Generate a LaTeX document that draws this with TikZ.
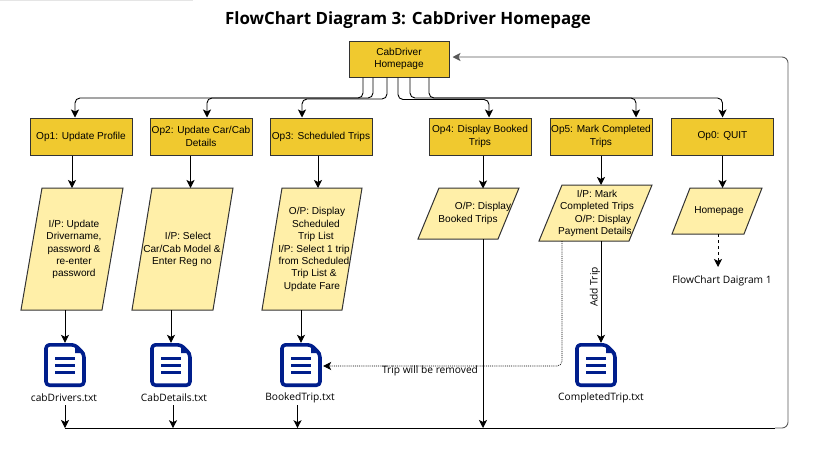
\documentclass[tikz,border=0pt]{standalone}
\usepackage{fontspec}
\setmainfont{Liberation Sans}
\newfontfamily\labelfont{Open Sans}
\usetikzlibrary{arrows.meta}
\definecolor{opfill}{HTML}{F0C92F}
\definecolor{iofill}{HTML}{FFEFA8}
\definecolor{docblue}{HTML}{001E8C}
\tikzset{
  opbox/.style={draw=black!80,fill=opfill,line width=1pt,minimum width=102pt,minimum height=37pt,inner sep=0pt,align=center,font=\fontsize{10.1}{12.6}\selectfont},
  iobox/.style={inner sep=0pt,outer sep=0pt,minimum height=122pt},
  ioshape/.style={draw=black!80,fill=iofill,line width=1pt,line join=miter},
  iotext/.style={inner sep=0pt,align=center,font=\fontsize{10.1}{12.4}\selectfont},
  docbox/.style={minimum width=42pt,minimum height=44pt,inner sep=0pt},
  filelabel/.style={inner sep=0pt,minimum height=14pt,font=\labelfont\fontsize{10.2}{11}\selectfont},
  flow/.style={-{Stealth[length=8pt,width=8pt,inset=2pt]},line width=0.9pt},
  docicon/.pic={
    \draw [docblue,fill=white,line width=3.6pt,line join=round,rounded corners=3.5pt] (-19,-20.2) -- (10,-20.2) -- (19,-11) -- (19,20.2) -- (-19,20.2) -- cycle;
    \fill [docblue] (10,-21) -- (10,-12) -- (20,-12) -- cycle;
    \foreach \q in {-6.5,0.5,7.5} {
      \fill [docblue] (-10,\q-1.6) rectangle (10,\q+1.6);
    }
  }
}
\begin{document}
\begin{tikzpicture}[x=1pt,y=-1pt]
  \useasboundingbox (0,0) rectangle (813,453);
  \fill [black!10] (0,0) rectangle (193,1);
  \node [font=\labelfont\bfseries\fontsize{16.9}{20}\selectfont] (title) at (408,20) {FlowChart Diagram 3: CabDriver Homepage};
  \node [opbox,minimum width=100pt,minimum height=36pt] (root) at (399,59) {CabDriver\\Homepage};
  \foreach \n/\x/\t in {1/81/{Op1: Update Profile},2/201/{Op2: Update Car/Cab\\Details},3/321/{Op3: Scheduled Trips},4/480/{Op4: Display Booked\\Trips},5/601/{Op5: Mark Completed\\Trips},0/722.5/{Op0: QUIT}} {
    \node [opbox] (op\n) at (\x,136.5) {\t};
  }
  % input and output boxes
  \node [iobox,minimum width=102pt] (io1) at (72,249) {};
  \node [iobox,minimum width=101pt] (io2) at (182.5,249) {};
  \node [iobox,minimum width=100pt] (io3) at (312,249) {};
  \node [iobox,minimum width=101pt,minimum height=51pt] (io4) at (468.5,213.5) {};
  \node [iobox,minimum width=113pt,minimum height=56pt] (io5) at (595.5,213) {};
  \node [iobox,minimum width=90pt,minimum height=46pt] (io0) at (717,211) {};
  \foreach \n/\s in {1/21,2/20,3/20,4/21,5/23,0/18} {
    \draw [ioshape] ([xshift=\s pt]io\n.north west) -- (io\n.north east) -- ([xshift=-\s pt]io\n.south east) -- (io\n.south west) -- cycle;
  }
  \node [iotext] (iotext1) at (74,249.5) {I/P: Update\\Drivername,\\password \&\\re-enter\\password};
  \node [iotext] (iotext2) at (182,249.5) {\hspace*{12pt}I/P: Select\\Car/Cab Model \&\\Enter Reg no};
  \node [iotext] (iotext3) at (314,249.5) {\hspace*{6pt}O/P: Display\\\hspace*{4pt}Scheduled\\\hspace*{4pt}Trip List\\I/P: Select 1 trip\\from Scheduled\hspace*{8pt}\\Trip List \&\hspace*{4pt}\\Update Fare\hspace*{4pt}};
  \node [iotext] (iotext4) at (473,213.5) {\hspace*{20pt}O/P: Display\\Booked Trips\hspace*{10pt}};
  \node [iotext] (iotext5) at (597,213.5) {I/P: Mark\\Completed Trips\\\hspace*{12pt}O/P: Display\\Payment Details\hspace*{4pt}};
  \node [iotext] (iotext0) at (719,211) {Homepage};
  % file icons
  \foreach \n/\x in {1/65,2/171,3/301,5/596} {
    \node [docbox] (doc\n) at (\x,365) {};
    \pic at (doc\n) {docicon};
  }
  \node [filelabel] (file1) at (64,398) {cabDrivers.txt};
  \node [filelabel] (file2) at (174,398) {CabDetails.txt};
  \node [filelabel] (file3) at (300,398) {BookedTrip.txt};
  \node [filelabel] (file5) at (601,398) {CompletedTrip.txt};
  \node [filelabel] (next) at (722,281) {FlowChart Daigram 1};
  \node [filelabel] (tripnote) at (430,371) {Trip will be removed};
  \node [filelabel,rotate=90] (addtrip) at (595,287) {Add Trip};
  % from the homepage to the options
  \foreach \f/\n/\s/\d in {-36/1/-6/20.5,-26/2/6/20.5,-12/3/-19/21.5,-1/4/9/22,11/5/35/20.5,30/0/0/20.5} {
    \draw [flow,rounded corners=5pt] ([xshift=\f pt]root.south) -- ++(0,\d) -| ([xshift=\s pt]op\n.north);
  }
  % from the options to the boxes
  \draw [flow] (op1.south -| io1.north) -- (io1.north);
  \draw [flow] ([xshift=-10.5pt]op2.south) -- ([xshift=8pt]io2.north);
  \draw [flow] ([xshift=-3pt]op3.south) -- ([xshift=6pt]io3.north);
  \draw [flow] (op4.south) ++(3pt,0) -- ++(0,33);
  \draw [flow] (op5.south) -- (op5.south |- io5.north);
  \draw [flow] (op0.south) -- (op0.south |- io0.north);
  % from the boxes to the files
  \draw [flow] (doc1.north |- io1.south) -- (doc1.north);
  \draw [flow] (doc2.north |- io2.south) -- (doc2.north);
  \draw [flow] (doc3.north |- io3.south) -- (doc3.north);
  \draw [flow] (io5.south -| file5.north) -- (file5.north |- doc5.north);
  \draw [flow,dashed] (io0.south -| next.north) ++(-4pt,0) -- ++(0,33);
  \draw [flow,densely dotted,line width=0.7pt,rounded corners=5pt] ([xshift=-33.5pt]io5.south) |- ([xshift=1pt,yshift=-1pt]doc3.east);
  % back to the homepage
  \coordinate (retstart) at (65,428);
  \coordinate (retcorner) at (775,428);
  \draw [line width=0.9pt] (retstart) -- (retcorner);
  \draw [flow,black!65,rounded corners=6pt] (retcorner) -- (788,428) -- (788,57) -- ([shift={(3pt,2pt)}]root.east);
  \draw [flow] (file1.south) ++(1pt,0) -- (retstart);
  \draw [flow] (file2.south) ++(-1pt,0) -- ++(0,23);
  \draw [flow] (file3.south) ++(-2.5pt,0) -- ++(0,23);
  \draw [flow] ([xshift=14.5pt]io4.south) -- ([xshift=14.5pt]io4.south |- retstart);
\end{tikzpicture}
\end{document}
